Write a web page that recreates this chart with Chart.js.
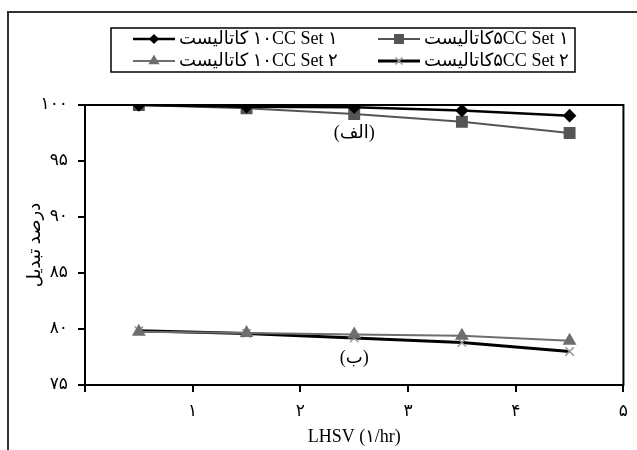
<!DOCTYPE html>
<html>
<head>
<meta charset="utf-8">
<script src="https://cdn.jsdelivr.net/npm/chart.js@4/dist/chart.umd.min.js"></script>
<style>
  body { margin: 0; background: #fff; }
  canvas { display: block; }
</style>
</head>
<body>
<canvas id="chart" width="637" height="450"></canvas>
<script>
// ---- data ----
const lhsv = [0.5, 1.5, 2.5, 3.5, 4.5];
const set1cc10 = [100, 99.85, 99.8, 99.5, 99.05];
const set1cc5  = [100, 99.7, 99.2, 98.5, 97.5];
const set2cc10 = [79.75, 79.65, 79.5, 79.4, 78.95];
const set2cc5  = [79.85, 79.6, 79.2, 78.8, 78.0];

const seriesNames = [
  'کاتالیست \u200E۱۰CC Set ۱',
  'کاتالیست\u200E۵CC Set ۱',
  'کاتالیست \u200E۱۰CC Set ۲',
  'کاتالیست\u200E۵CC Set ۲'
];

const noteText = ['(الف)', '(ب)'];
const noteX = [2.5, 2.5];
const noteY = [97.5, 77.4];

const FONT = '"Liberation Serif", "DejaVu Sans", serif';
const toFa = v => String(v).replace(/\d/g, d => '۰۱۲۳۴۵۶۷۸۹'[d]);
const pts = arr => arr.map((y, i) => ({ x: lhsv[i], y }));

// outer frame, plot border, notes and the boxed legend
const decor = {
  id: 'decor',
  beforeDraw(chart) {
    const ctx = chart.ctx;
    ctx.save();
    ctx.strokeStyle = '#333';
    ctx.lineWidth = 2;
    ctx.beginPath();
    ctx.moveTo(8, 450); ctx.lineTo(8, 12); ctx.lineTo(637, 12);
    ctx.stroke();
    ctx.restore();
  },
  afterDatasetsDraw(chart) {
    const { ctx, chartArea: a, scales: { x, y } } = chart;
    ctx.save();
    ctx.direction = 'ltr';
    ctx.strokeStyle = '#000';
    ctx.lineWidth = 2;
    ctx.strokeRect(a.left, a.top, a.right - a.left, a.bottom - a.top);

    // (الف) / (ب)
    ctx.fillStyle = '#000';
    ctx.font = '18px ' + FONT;
    ctx.textAlign = 'center';
    ctx.textBaseline = 'middle';
    noteText.forEach((t, i) => ctx.fillText(t, x.getPixelForValue(noteX[i]), y.getPixelForValue(noteY[i])));

    // legend
    ctx.lineWidth = 1.5;
    ctx.strokeRect(111, 28, 464, 44);
    const colX = [133, 378], rowY = [39, 61];
    chart.data.datasets.forEach((ds, i) => {
      const lx = colX[i % 2], ly = rowY[Math.floor(i / 2)];
      ctx.strokeStyle = ds.borderColor;
      ctx.lineWidth = ds.borderWidth;
      ctx.beginPath(); ctx.moveTo(lx, ly); ctx.lineTo(lx + 42, ly); ctx.stroke();
      ctx.fillStyle = ds.pointBackgroundColor;
      ctx.strokeStyle = ds.pointBorderColor;
      ctx.lineWidth = 1.5;
      Chart.helpers.drawPoint(ctx, { pointStyle: ds.pointStyle, radius: ds.pointRadius - 1, rotation: 0, borderWidth: 1.5 }, lx + 21, ly);
      ctx.fillStyle = '#000';
      ctx.font = '18px ' + FONT;
      ctx.textAlign = 'left';
      ctx.textBaseline = 'middle';
      ctx.fillText(ds.label, lx + 46, ly);
    });
    ctx.restore();
  }
};

new Chart(document.getElementById('chart'), {
  type: 'line',
  data: {
    datasets: [
      { label: seriesNames[0], data: pts(set1cc10), borderColor: '#000', borderWidth: 2.5,
        pointStyle: 'rectRot', pointRadius: 5, pointBackgroundColor: '#000', pointBorderColor: '#000' },
      { label: seriesNames[1], data: pts(set1cc5), borderColor: '#555', borderWidth: 2,
        pointStyle: 'rect', pointRadius: 7, pointBackgroundColor: '#555', pointBorderColor: '#555' },
      { label: seriesNames[2], data: pts(set2cc10), borderColor: '#6e6e6e', borderWidth: 2,
        pointStyle: 'triangle', pointRadius: 6, pointBackgroundColor: '#6e6e6e', pointBorderColor: '#6e6e6e' },
      { label: seriesNames[3], data: pts(set2cc5), borderColor: '#000', borderWidth: 3,
        pointStyle: 'crossRot', pointRadius: 6, pointBackgroundColor: '#999', pointBorderColor: '#999', pointBorderWidth: 1.5 }
    ]
  },
  options: {
    responsive: false,
    animation: false,
    layout: { padding: { left: 10, top: 105, right: 10, bottom: 0 } },
    plugins: { legend: { display: false }, tooltip: { enabled: false } },
    scales: {
      x: {
        type: 'linear', min: 0, max: 5,
        afterFit: s => { s.height = 65; },
        ticks: { stepSize: 1, padding: 9, color: '#000', font: { family: FONT, size: 17 },
                 callback: v => v === 0 ? '' : toFa(v) },
        grid: { drawOnChartArea: false, tickLength: 7, color: '#000', lineWidth: 2 },
        border: { color: '#000', width: 2 },
        title: { display: true, text: 'LHSV (\u200E۱/hr)', color: '#000',
                 font: { family: FONT, size: 18 }, padding: { top: 0, bottom: 2 } }
      },
      y: {
        min: 75, max: 100,
        afterFit: s => { s.width = 75; },
        ticks: { stepSize: 5, padding: 10, color: '#000', font: { family: FONT, size: 17 },
                 callback: v => toFa(v) },
        grid: { drawOnChartArea: false, tickLength: 7, color: '#000', lineWidth: 2 },
        border: { color: '#000', width: 2 },
        title: { display: true, text: 'درصد تبدیل', color: '#000',
                 font: { family: FONT, size: 18 }, padding: { top: 14, bottom: 0 } }
      }
    }
  },
  plugins: [decor]
});
</script>
</body>
</html>
